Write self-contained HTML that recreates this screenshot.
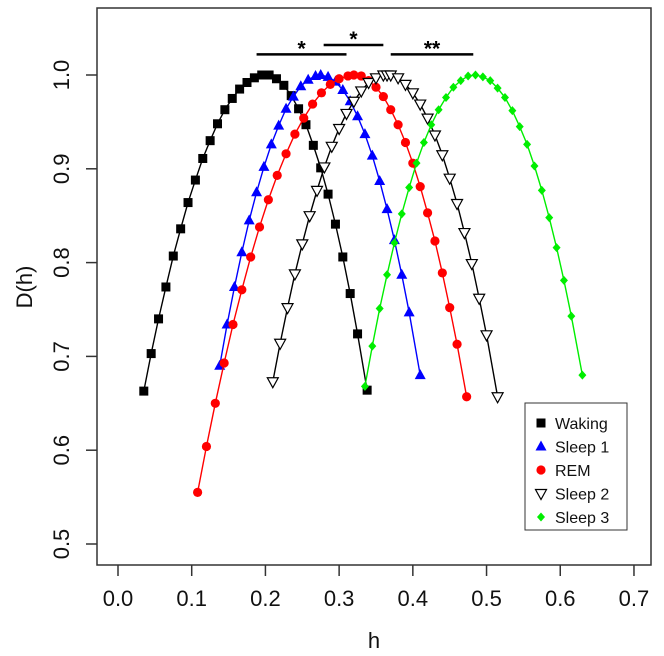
<!DOCTYPE html>
<html><head><meta charset="utf-8"><style>
body{margin:0;background:#fff}
svg{display:block;font-family:"Liberation Sans",sans-serif}
</style></head><body>
<svg id="chart" width="664" height="656" viewBox="0 0 664 656"></svg>
<script>
const xTicks=[0.0,0.1,0.2,0.3,0.4,0.5,0.6,0.7];
const yTicks=[0.5,0.6,0.7,0.8,0.9,1.0];
const seriesNames=["Waking","Sleep 1","REM","Sleep 2","Sleep 3"];
const wakingH=[.035,.045,.055,.065,.075,.085,.095,.105,.115,.125,.135,.145,.155,.165,.175,.185,.195,.205,.215,.225,.235,.245,.255,.265,.275,.285,.295,.305,.315,.325,.338];
const wakingD=[.663,.703,.740,.774,.807,.836,.864,.888,.911,.930,.948,.963,.975,.985,.992,.997,1.0,1.0,.996,.989,.978,.964,.947,.925,.901,.873,.841,.806,.767,.724,.664];
const sleep1H=[.138,.148,.158,.168,.178,.188,.198,.208,.218,.228,.238,.248,.258,.268,.275,.285,.295,.305,.315,.325,.335,.345,.355,.365,.375,.385,.395,.41];
const sleep1D=[.690,.734,.774,.811,.845,.875,.902,.926,.946,.964,.977,.988,.995,.999,1.0,.998,.993,.984,.972,.956,.937,.914,.887,.857,.824,.787,.747,.68];
const remH=[.108,.12,.132,.144,.156,.168,.18,.192,.204,.216,.228,.24,.252,.264,.276,.288,.30,.312,.32,.33,.34,.35,.36,.37,.38,.39,.40,.41,.42,.43,.44,.45,.46,.473];
const remD=[.555,.604,.650,.693,.734,.771,.806,.838,.867,.893,.916,.937,.954,.969,.981,.990,.996,.999,1.0,.999,.994,.987,.977,.963,.947,.928,.906,.881,.853,.823,.789,.752,.713,.657];
const sleep2H=[.21,.22,.23,.24,.25,.26,.27,.28,.29,.30,.31,.32,.33,.34,.35,.36,.365,.37,.38,.39,.40,.41,.42,.43,.44,.45,.46,.47,.48,.49,.50,.515];
const sleep2D=[.673,.714,.752,.788,.820,.850,.877,.902,.924,.943,.959,.972,.983,.992,.997,1.0,1.0,1.0,.997,.990,.981,.969,.954,.936,.915,.890,.863,.832,.799,.762,.723,.657];
const sleep3H=[.335,.345,.355,.365,.375,.385,.395,.405,.415,.425,.435,.445,.455,.465,.475,.485,.495,.505,.515,.525,.535,.545,.555,.565,.575,.585,.595,.605,.615,.63];
const sleep3D=[.668,.711,.751,.787,.821,.852,.880,.906,.928,.947,.963,.976,.987,.994,.999,1.0,.998,.994,.986,.976,.962,.945,.926,.903,.877,.848,.816,.781,.743,.68];
const sigStart=[.188,.279,.37];
const sigEnd=[.31,.36,.482];
const sigLevel=[1.022,1.032,1.022];
const sigLabels=["*","*","**"];

const NS="http://www.w3.org/2000/svg";
const svg=document.getElementById('chart');
const X=h=>118+h*737.1;
const Y=d=>544-(d-0.5)*938;
function mk(tag,attrs,parent){const e=document.createElementNS(NS,tag);for(const k in attrs)e.setAttribute(k,attrs[k]);(parent||svg).appendChild(e);return e;}

const frame=mk('rect',{x:97,y:8,width:554,height:557,fill:'none',stroke:'#333','stroke-width':1.5});



xTicks.forEach(t=>{
  const l=mk('line',{x1:X(t),x2:X(t),y1:565,y2:576,stroke:'#333','stroke-width':1.5});
  
  
  const tx=mk('text',{x:X(t),y:606,'text-anchor':'middle','font-size':22,fill:'#111'});
  tx.textContent=t.toFixed(1);
  
  
});
yTicks.forEach(t=>{
  const l=mk('line',{x1:86,x2:97,y1:Y(t),y2:Y(t),stroke:'#333','stroke-width':1.5});
  
  
  const tx=mk('text',{x:0,y:0,transform:`translate(69,${Y(t)}) rotate(-90)`,'text-anchor':'middle','font-size':22,fill:'#111'});
  tx.textContent=t.toFixed(1);
  
  
});
const xt=mk('text',{x:374,y:648,'text-anchor':'middle','font-size':22,fill:'#111'});
xt.textContent='h';


const yt=mk('text',{x:0,y:0,transform:'translate(32,287) rotate(-90)','text-anchor':'middle','font-size':22,fill:'#111'});
yt.textContent='D(h)';



function marker(type,x,y,g,color){
  let e;
  if(type==='sq')e=mk('rect',{x:x-4.5,y:y-4.5,width:9,height:9,fill:color},g);
  else if(type==='tri')e=mk('polygon',{points:`${x},${y-6} ${x-5.5},${y+4} ${x+5.5},${y+4}`,fill:color},g);
  else if(type==='circ')e=mk('circle',{cx:x,cy:y,r:4.6,fill:color},g);
  else if(type==='dtri')e=mk('polygon',{points:`${x-5.5},${y-4} ${x+5.5},${y-4} ${x},${y+6}`,fill:'#fff',stroke:color,'stroke-width':1.2},g);
  else e=mk('polygon',{points:`${x},${y-4.5} ${x+4},${y} ${x},${y+4.5} ${x-4},${y}`,fill:color},g);
  return e;
}
const series=[
 {name:'waking',H:wakingH,D:wakingD,c:'#000',m:'sq'},
 {name:'sleep1',H:sleep1H,D:sleep1D,c:'#0000ff',m:'tri'},
 {name:'rem',H:remH,D:remD,c:'#ff0000',m:'circ'},
 {name:'sleep2',H:sleep2H,D:sleep2D,c:'#000',m:'dtri'},
 {name:'sleep3',H:sleep3H,D:sleep3D,c:'#00ee00',m:'diam'}
];
series.forEach(s=>{
  const g=mk('g',{});
  
  
  const pts=s.H.map((h,i)=>X(h)+','+Y(s.D[i])).join(' ');
  const pl=mk('polyline',{points:pts,fill:'none',stroke:s.c,'stroke-width':1.4},g);
  
  
  s.H.forEach((h,i)=>{
    const p=marker(s.m,X(h),Y(s.D[i]),g,s.c);
    
    
  });
});
sigStart.forEach((a,i)=>{
  const l=mk('line',{x1:X(a),x2:X(sigEnd[i]),y1:Y(sigLevel[i]),y2:Y(sigLevel[i]),stroke:'#000','stroke-width':2.5});
  
  
  const t=mk('text',{x:(X(a)+X(sigEnd[i]))/2,y:Y(sigLevel[i])+1,'text-anchor':'middle','font-size':21,'font-weight':'bold',fill:'#000'});
  t.textContent=sigLabels[i];
  
  
});
const lg=mk('g',{});


mk('rect',{x:525,y:403,width:102,height:127,fill:'#fff',stroke:'#333','stroke-width':1},lg);
series.forEach((s,i)=>{
  const y=423+i*23.5;
  const m=marker(s.m,541,y,lg,s.c);
  
  
  const t=mk('text',{x:555,y:y+6,'font-size':16,fill:'#111'},lg);
  t.textContent=seriesNames[i];
  
  
});
</script>
</body></html>
